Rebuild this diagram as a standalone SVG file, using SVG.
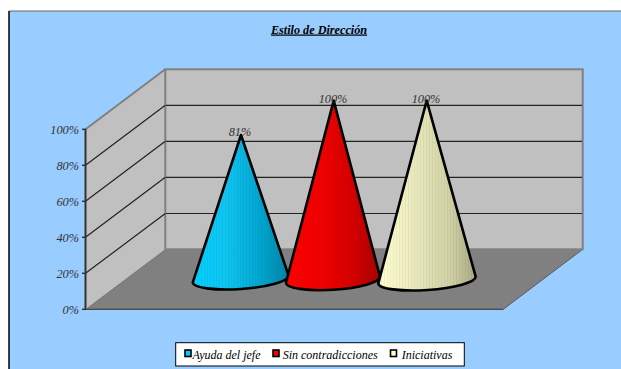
<svg xmlns="http://www.w3.org/2000/svg" width="621" height="369" viewBox="0 0 621 369">
<style>
.lbl{font-family:'Liberation Serif','Tinos','DejaVu Serif',serif;font-style:italic;font-size:12.3px;fill:#333333}
.leg{font-family:'Liberation Serif','Tinos','DejaVu Serif',serif;font-style:italic;font-size:12px;fill:#000000}
.ttl{font-family:'Liberation Serif','Tinos','DejaVu Serif',serif;font-style:italic;font-weight:bold;font-size:12.2px;fill:#000000}
.grid{stroke:#222222;stroke-width:1.2;fill:none}
.cone{stroke:#000000;stroke-width:2.6;stroke-linejoin:round}
</style>
<defs>
<linearGradient id="gCyan" x1="0" y1="0" x2="1" y2="0">
<stop offset="0" stop-color="#00D0FF"/>
<stop offset="0.35" stop-color="#10C4F0"/>
<stop offset="0.7" stop-color="#00A6D0"/>
<stop offset="1" stop-color="#0084A8"/>
</linearGradient>
<linearGradient id="gRed" x1="0" y1="0" x2="1" y2="0">
<stop offset="0" stop-color="#FF0000"/>
<stop offset="0.4" stop-color="#F00000"/>
<stop offset="0.75" stop-color="#D00000"/>
<stop offset="1" stop-color="#A80000"/>
</linearGradient>
<linearGradient id="gCream" x1="0" y1="0" x2="1" y2="0">
<stop offset="0" stop-color="#FFFFD0"/>
<stop offset="0.4" stop-color="#E8E8BC"/>
<stop offset="0.75" stop-color="#CFCFA4"/>
<stop offset="1" stop-color="#A8A884"/>
</linearGradient>
<pattern id="stripes" width="3" height="10" patternUnits="userSpaceOnUse">
<rect x="0" y="0" width="0.6" height="10" fill="#000000" fill-opacity="0.07"/>
</pattern>
</defs>

<g id="background">
<rect x="0" y="0" width="621" height="369" fill="#FFFFFF"/>
<rect x="9" y="11" width="612" height="358" fill="#99CCFF"/>
<line x1="9" y1="11" x2="621" y2="11" stroke="#666666" stroke-width="1"/>
<line x1="9" y1="11" x2="9" y2="369" stroke="#000000" stroke-width="1.5"/>
</g>

<g id="title">
<text class="ttl" x="319" y="33.5" text-anchor="middle" text-decoration="underline">Estilo de Dirección</text>
</g>

<g id="plot-area">
<polygon points="85.5,309.3 165.3,249.3 582.7,249.3 503.3,309.3" fill="#808080" stroke="#5a5a5a" stroke-width="1"/>
<polygon points="85.5,129.3 165.3,69.3 165.3,249.3 85.5,309.3" fill="#C0C0C0"/>
<rect x="165.3" y="69.3" width="417.4" height="180" fill="#C0C0C0" stroke="#808080" stroke-width="2"/>
<line x1="85.5" y1="129.3" x2="165.3" y2="69.3" stroke="#808080" stroke-width="2"/>
<g class="grid">
<line x1="166" y1="105.3" x2="582" y2="105.3"/>
<line x1="166" y1="141.3" x2="582" y2="141.3"/>
<line x1="166" y1="177.3" x2="582" y2="177.3"/>
<line x1="166" y1="213.5" x2="582" y2="213.5"/>
<line x1="85.5" y1="165.3" x2="165.3" y2="105.3"/>
<line x1="85.5" y1="201.3" x2="165.3" y2="141.3"/>
<line x1="85.5" y1="237.3" x2="165.3" y2="177.3"/>
<line x1="85.5" y1="273.3" x2="165.3" y2="213.5"/>
</g>
</g>

<g id="axis">
<line x1="85.5" y1="129" x2="85.5" y2="310" stroke="#333333" stroke-width="2"/>
<line x1="85.5" y1="309.3" x2="503.3" y2="309.3" stroke="#444444" stroke-width="1"/>
<g stroke="#333333" stroke-width="1.5">
<line x1="82" y1="129.3" x2="86" y2="129.3"/>
<line x1="82" y1="165.3" x2="86" y2="165.3"/>
<line x1="82" y1="201.3" x2="86" y2="201.3"/>
<line x1="82" y1="237.3" x2="86" y2="237.3"/>
<line x1="82" y1="273.3" x2="86" y2="273.3"/>
<line x1="82" y1="309.3" x2="86" y2="309.3"/>
</g>
<text class="lbl" x="79" y="133.5" text-anchor="end">100%</text>
<text class="lbl" x="79" y="169.5" text-anchor="end">80%</text>
<text class="lbl" x="79" y="205.5" text-anchor="end">60%</text>
<text class="lbl" x="79" y="241.5" text-anchor="end">40%</text>
<text class="lbl" x="79" y="277.5" text-anchor="end">20%</text>
<text class="lbl" x="79" y="313.5" text-anchor="end">0%</text>
</g>

<g id="cone-ayuda">
<path d="M 192.8 282.3 A 48 10 -4 0 0 288.6 275.7 L 241 135 Z" fill="url(#gCyan)"/>
<path d="M 192.8 282.3 A 48 10 -4 0 0 288.6 275.7 L 241 135 Z" fill="url(#stripes)"/>
<path class="cone" d="M 192.8 282.3 A 48 10 -4 0 0 288.6 275.7 L 241 135 Z" fill="none"/>
<text class="lbl" x="240" y="136" text-anchor="middle">81%</text>
</g>

<g id="cone-sin">
<path d="M 286 282.7 A 47 10 -3.7 0 0 380 276.7 L 333.7 100.7 Z" fill="url(#gRed)"/>
<path d="M 286 282.7 A 47 10 -3.7 0 0 380 276.7 L 333.7 100.7 Z" fill="url(#stripes)"/>
<path class="cone" d="M 286 282.7 A 47 10 -3.7 0 0 380 276.7 L 333.7 100.7 Z" fill="none"/>
<text class="lbl" x="333" y="102.7" text-anchor="middle">100%</text>
</g>

<g id="cone-iniciativas">
<path d="M 378.3 283.3 A 48.8 10 -3.9 0 0 475.7 276.7 L 426.7 100.7 Z" fill="url(#gCream)"/>
<path d="M 378.3 283.3 A 48.8 10 -3.9 0 0 475.7 276.7 L 426.7 100.7 Z" fill="url(#stripes)"/>
<path class="cone" d="M 378.3 283.3 A 48.8 10 -3.9 0 0 475.7 276.7 L 426.7 100.7 Z" fill="none"/>
<text class="lbl" x="426" y="102.7" text-anchor="middle">100%</text>
</g>

<g id="legend">
<rect x="175.7" y="342.7" width="288.6" height="23.3" fill="#FFFFFF" stroke="#000000" stroke-width="1"/>
<rect x="185" y="350" width="6" height="6.5" fill="#00CCFF" stroke="#000000" stroke-width="1.6"/>
<text class="leg" x="192.5" y="358.5">Ayuda del jefe</text>
<rect x="273" y="350" width="6" height="6.5" fill="#FF0000" stroke="#000000" stroke-width="1.6"/>
<text class="leg" x="282.7" y="358.5">Sin contradicciones</text>
<rect x="390.5" y="350" width="6" height="6.5" fill="#FFFFCC" stroke="#000000" stroke-width="1.6"/>
<text class="leg" x="401.7" y="358.5">Iniciativas</text>
</g>
</svg>
